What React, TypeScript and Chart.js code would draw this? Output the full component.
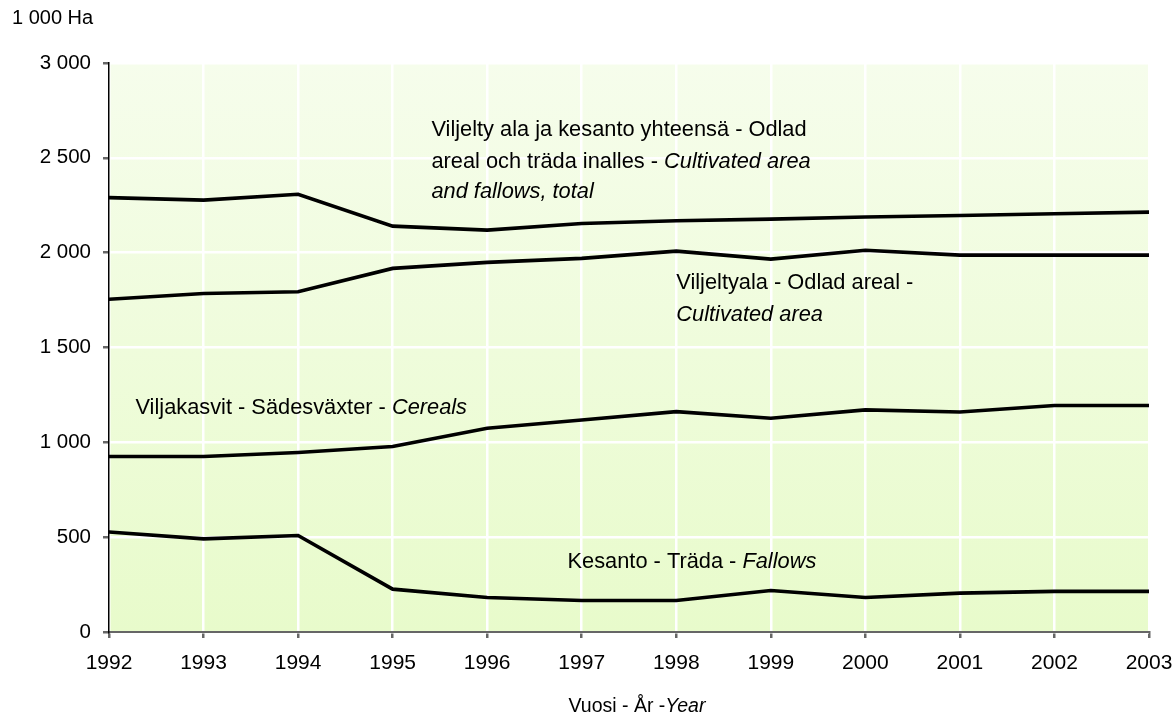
import React, { useEffect, useRef } from "react";
import { Chart, registerables } from "chart.js";

Chart.register(...registerables);

// ---- data ----
const years = [1992, 1993, 1994, 1995, 1996, 1997, 1998, 1999, 2000, 2001, 2002, 2003];
const totalArea = [2290, 2277, 2308, 2140, 2119, 2154, 2168, 2177, 2188, 2196, 2205, 2214];
const cultivatedArea = [1754, 1785, 1794, 1917, 1949, 1970, 2008, 1966, 2013, 1987, 1987, 1987];
const cereals = [925, 925, 946, 978, 1074, 1118, 1162, 1127, 1171, 1160, 1194, 1194];
const fallows = [527, 491, 509, 226, 182, 166, 166, 219, 182, 205, 214, 214];
const yTicks = [0, 500, 1000, 1500, 2000, 2500, 3000];

const yUnit = "1 000 Ha";
const xTitle = [{ t: "Vuosi - År -" }, { t: "Year", i: true }];

type Seg = { t: string; i?: boolean };
type Ann = { x: number; y: number; segs: Seg[] };

// series labels placed in data coordinates (year, value)
const annotations: Ann[] = [
  { x: 1995.41, y: 2646, segs: [{ t: "Viljelty ala ja kesanto yhteensä - Odlad" }] },
  { x: 1995.41, y: 2479, segs: [{ t: "areal och träda inalles - " }, { t: "Cultivated area", i: true }] },
  { x: 1995.41, y: 2320, segs: [{ t: "and fallows, total", i: true }] },
  { x: 1998.0, y: 1840, segs: [{ t: "Viljeltyala - Odlad areal -" }] },
  { x: 1998.0, y: 1671, segs: [{ t: "Cultivated area", i: true }] },
  { x: 1992.28, y: 1179, segs: [{ t: "Viljakasvit - Sädesväxter - " }, { t: "Cereals", i: true }] },
  { x: 1996.85, y: 370, segs: [{ t: "Kesanto - Träda - " }, { t: "Fallows", i: true }] },
];

const FAMILY = '"Liberation Sans", Arial, sans-serif';
const FS = 21;
const ANN_FS = 21.8;
const TITLE_FS = 19.5;
const fontStr = (size: number, italic?: boolean) => `${italic ? "italic " : ""}${size}px ${FAMILY}`;

function drawSegs(ctx: CanvasRenderingContext2D, segs: Seg[], x: number, y: number, center: boolean, size: number) {
  const widths = segs.map((s) => {
    ctx.font = fontStr(size, s.i);
    return ctx.measureText(s.t).width;
  });
  const total = widths.reduce((a, b) => a + b, 0);
  let cx = center ? x - total / 2 : x;
  segs.forEach((s, k) => {
    ctx.font = fontStr(size, s.i);
    ctx.fillText(s.t, cx, y);
    cx += widths[k];
  });
}

const bgPlugin = {
  id: "bgGradient",
  beforeDraw(chart: any) {
    const { ctx, chartArea: a } = chart;
    const g = ctx.createLinearGradient(0, a.top, 0, a.bottom);
    g.addColorStop(0, "#f6fdec");
    g.addColorStop(1, "#e8fbcb");
    ctx.save();
    ctx.fillStyle = g;
    ctx.fillRect(a.left, a.top, a.right - a.left, a.bottom - a.top);
    ctx.restore();
  },
};

const textPlugin = {
  id: "texts",
  afterDraw(chart: any) {
    const { ctx, chartArea: a, scales } = chart;
    const xs = scales.x;
    const ys = scales.y;
    ctx.save();
    ctx.fillStyle = "#000";
    ctx.textBaseline = "middle";
    ctx.textAlign = "left";
    annotations.forEach((an) => {
      drawSegs(ctx, an.segs, xs.getPixelForValue(an.x), ys.getPixelForValue(an.y), false, ANN_FS);
    });
    // y unit label
    ctx.font = fontStr(20);
    ctx.fillText(yUnit, 12, 18);
    // x title
    drawSegs(ctx, xTitle, (a.left + a.right) / 2 + 8, 707, true, TITLE_FS);
    ctx.restore();
  },
};

export default function App() {
  const ref = useRef<HTMLCanvasElement | null>(null);

  useEffect(() => {
    document.body.style.margin = "0";
    const canvas = ref.current;
    if (!canvas) return;
    const mk = (data: number[]) => ({
      data: years.map((yr, i) => ({ x: yr, y: data[i] })),
      borderColor: "#000",
      borderWidth: 3.6,
      pointRadius: 0,
      tension: 0,
      fill: false,
      borderCapStyle: "round" as const,
    });
    const chart = new Chart(canvas, {
      type: "line",
      data: {
        datasets: [mk(totalArea), mk(cultivatedArea), mk(cereals), mk(fallows)],
      },
      options: {
        animation: false,
        responsive: false,
        devicePixelRatio: 1,
        layout: { padding: { top: 63, right: 25, left: 0, bottom: 0 } },
        plugins: { legend: { display: false }, tooltip: { enabled: false } },
        scales: {
          x: {
            type: "linear",
            min: years[0],
            max: years[years.length - 1],
            afterBuildTicks: (s: any) => {
              s.ticks = years.map((v) => ({ value: v }));
            },
            afterFit: (s: any) => {
              s.height = 83;
              s.paddingLeft = 0;
              s.paddingRight = 0;
            },
            ticks: {
              callback: (v: any) => String(v),
              color: "#000",
              font: { family: FAMILY, size: FS },
              padding: 13,
              maxRotation: 0,
              autoSkip: false,
            },
            grid: { color: "#ffffff", lineWidth: 2.5, tickColor: "#666", tickLength: 6 },
            border: { color: "#666", width: 2 },
          },
          y: {
            type: "linear",
            min: 0,
            max: 3000,
            afterBuildTicks: (s: any) => {
              s.ticks = yTicks.map((v) => ({ value: v }));
            },
            afterFit: (s: any) => {
              s.width = 109;
              s.paddingTop = 0;
              s.paddingBottom = 0;
            },
            ticks: {
              callback: (v: any) => {
                const n = Number(v);
                return n >= 1000 ? `${Math.floor(n / 1000)} ${String(n % 1000).padStart(3, "0")}` : String(n);
              },
              color: "#000",
              font: { family: FAMILY, size: 20.5 },
              padding: 12,
            },
            grid: { color: "#ffffff", lineWidth: 2.5, tickColor: "#666", tickLength: 6 },
            border: { color: "#000", width: 1.5 },
          },
        },
      },
      plugins: [bgPlugin, textPlugin],
    });
    return () => chart.destroy();
  }, []);

  return (
    <div style={{ position: "fixed", left: 0, top: 0, width: 1174, height: 715, background: "#fff" }}>
      <canvas ref={ref} width={1174} height={715} style={{ width: 1174, height: 715 }} />
    </div>
  );
}
